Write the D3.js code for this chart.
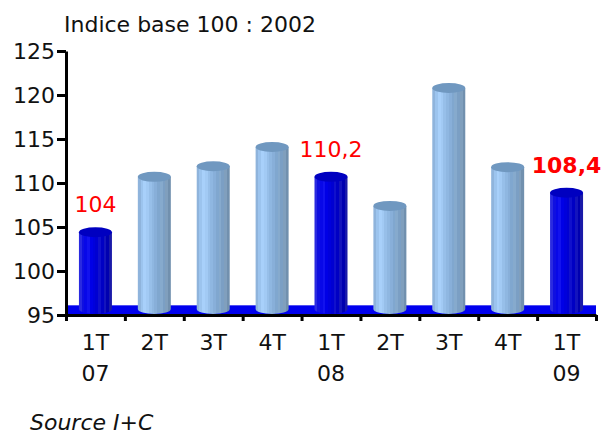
<!DOCTYPE html>
<html>
<head>
<meta charset="utf-8">
<script src="https://cdn.jsdelivr.net/npm/d3@7"></script>
<style>
  html, body { margin: 0; padding: 0; background: #fff; }
  svg { display: block; }
  text { font-family: "DejaVu Sans", sans-serif; }
</style>
</head>
<body>
<script>
// data
var quarters = ["1T", "2T", "3T", "4T", "1T", "2T", "3T", "4T", "1T"];
var years = ["07", "", "", "", "08", "", "", "", "09"];
var values = [104.4, 110.7, 111.9, 114.1, 110.7, 107.4, 120.8, 111.8, 108.9];
var highlighted = [0, 4, 8];
var valueLabels = ["104", "", "", "", "110,2", "", "", "", "108,4"];
var yTicks = [95, 100, 105, 110, 115, 120, 125];

var width = 613, height = 432;

var svg = d3.select("body").append("svg")
    .attr("width", width)
    .attr("height", height);

var x = d3.scaleBand()
    .domain(d3.range(values.length))
    .range([66, 596]);

var y = d3.scaleLinear()
    .domain([95, 125])
    .range([315, 51]);

// striped shading across the cylinder
var lightStops = ["#8fb4dc", "#9cc4ee", "#a8d0fa", "#a2caf4", "#97bfe9", "#8fb7e1", "#88afd9", "#80a7cf", "#86aacd", "#7b9fc4", "#809fbd", "#7190ae"];
var darkStops = ["#2a2ae0", "#1010e0", "#0808e8", "#1212ee", "#0000e6", "#0000dc", "#0000d2", "#1010cc", "#0000c4", "#1414bc", "#0000b0", "#1a1aa8"];

var defs = svg.append("defs");
function addGradient(id, stops) {
  var g = defs.append("linearGradient").attr("id", id);
  stops.forEach(function(c, i) {
    g.append("stop").attr("offset", i / stops.length).attr("stop-color", c);
    g.append("stop").attr("offset", (i + 1) / stops.length).attr("stop-color", c);
  });
}
addGradient("lightBar", lightStops);
addGradient("darkBar", darkStops);

// title
svg.append("text")
    .attr("x", 64)
    .attr("y", 32)
    .attr("font-size", 22)
    .attr("fill", "#111")
    .text("Indice base 100 : 2002");

// blue floor
svg.append("rect")
    .attr("x", x.range()[0])
    .attr("y", y(96.1))
    .attr("width", x.range()[1] - x.range()[0])
    .attr("height", y(95) - y(96.1))
    .attr("fill", "#0000ee");

// cylinders
var barW = 33, rx = barW / 2, ry = 5;
var bar = svg.append("g").selectAll("g")
    .data(values)
  .enter().append("g")
    .attr("transform", function(d, i) {
      return "translate(" + (x(i) + x.bandwidth() / 2) + ",0)";
    });

bar.append("path")
    .attr("d", function(d) {
      var base = y(95) - 6;
      return "M" + (-rx) + "," + y(d) +
             "L" + (-rx) + "," + base +
             "A" + rx + "," + ry + " 0 0 0 " + rx + "," + base +
             "L" + rx + "," + y(d) + "Z";
    })
    .attr("fill", function(d, i) {
      return highlighted.indexOf(i) >= 0 ? "url(#darkBar)" : "url(#lightBar)";
    });

bar.append("ellipse")
    .attr("cx", 0)
    .attr("cy", function(d) { return y(d); })
    .attr("rx", rx)
    .attr("ry", ry)
    .attr("fill", function(d, i) {
      return highlighted.indexOf(i) >= 0 ? "#0000c0" : "#7098c0";
    });

// value labels
bar.append("text")
    .attr("text-anchor", "middle")
    .attr("y", function(d) { return y(d) - 20; })
    .attr("font-size", 22)
    .attr("font-weight", function(d, i) { return i === 8 ? "bold" : "normal"; })
    .attr("fill", "#ff0000")
    .text(function(d, i) { return valueLabels[i]; });

// axes
var yAxis = d3.axisLeft(y).tickValues(yTicks).tickSize(9).tickSizeOuter(0);
var yg = svg.append("g").attr("transform", "translate(66,0)").call(yAxis);

var xAxis = d3.axisBottom(d3.scaleLinear().domain([0, values.length]).range(x.range()))
    .tickValues(d3.range(values.length + 1))
    .tickFormat("")
    .tickSize(6)
    .tickSizeOuter(0);
var xg = svg.append("g").attr("transform", "translate(0,315)").call(xAxis);

[yg, xg].forEach(function(g) {
  g.selectAll("path, line").attr("stroke", "#000").attr("stroke-width", 3);
});
yg.selectAll("text")
    .attr("font-size", 22)
    .attr("font-family", "DejaVu Sans, sans-serif")
    .attr("fill", "#111")
    .attr("x", -11);

// category labels on two lines
var cat = svg.append("g").selectAll("g")
    .data(quarters)
  .enter().append("g")
    .attr("transform", function(d, i) {
      return "translate(" + (x(i) + x.bandwidth() / 2) + ",0)";
    })
    .attr("text-anchor", "middle")
    .attr("font-size", 22)
    .attr("fill", "#111");
cat.append("text").attr("y", 350).text(function(d) { return d; });
cat.append("text").attr("y", 381).text(function(d, i) { return years[i]; });

// source note
svg.append("text")
    .attr("x", 30)
    .attr("y", 430)
    .attr("font-size", 22)
    .attr("font-style", "italic")
    .attr("fill", "#111")
    .text("Source I+C");
</script>
</body>
</html>
